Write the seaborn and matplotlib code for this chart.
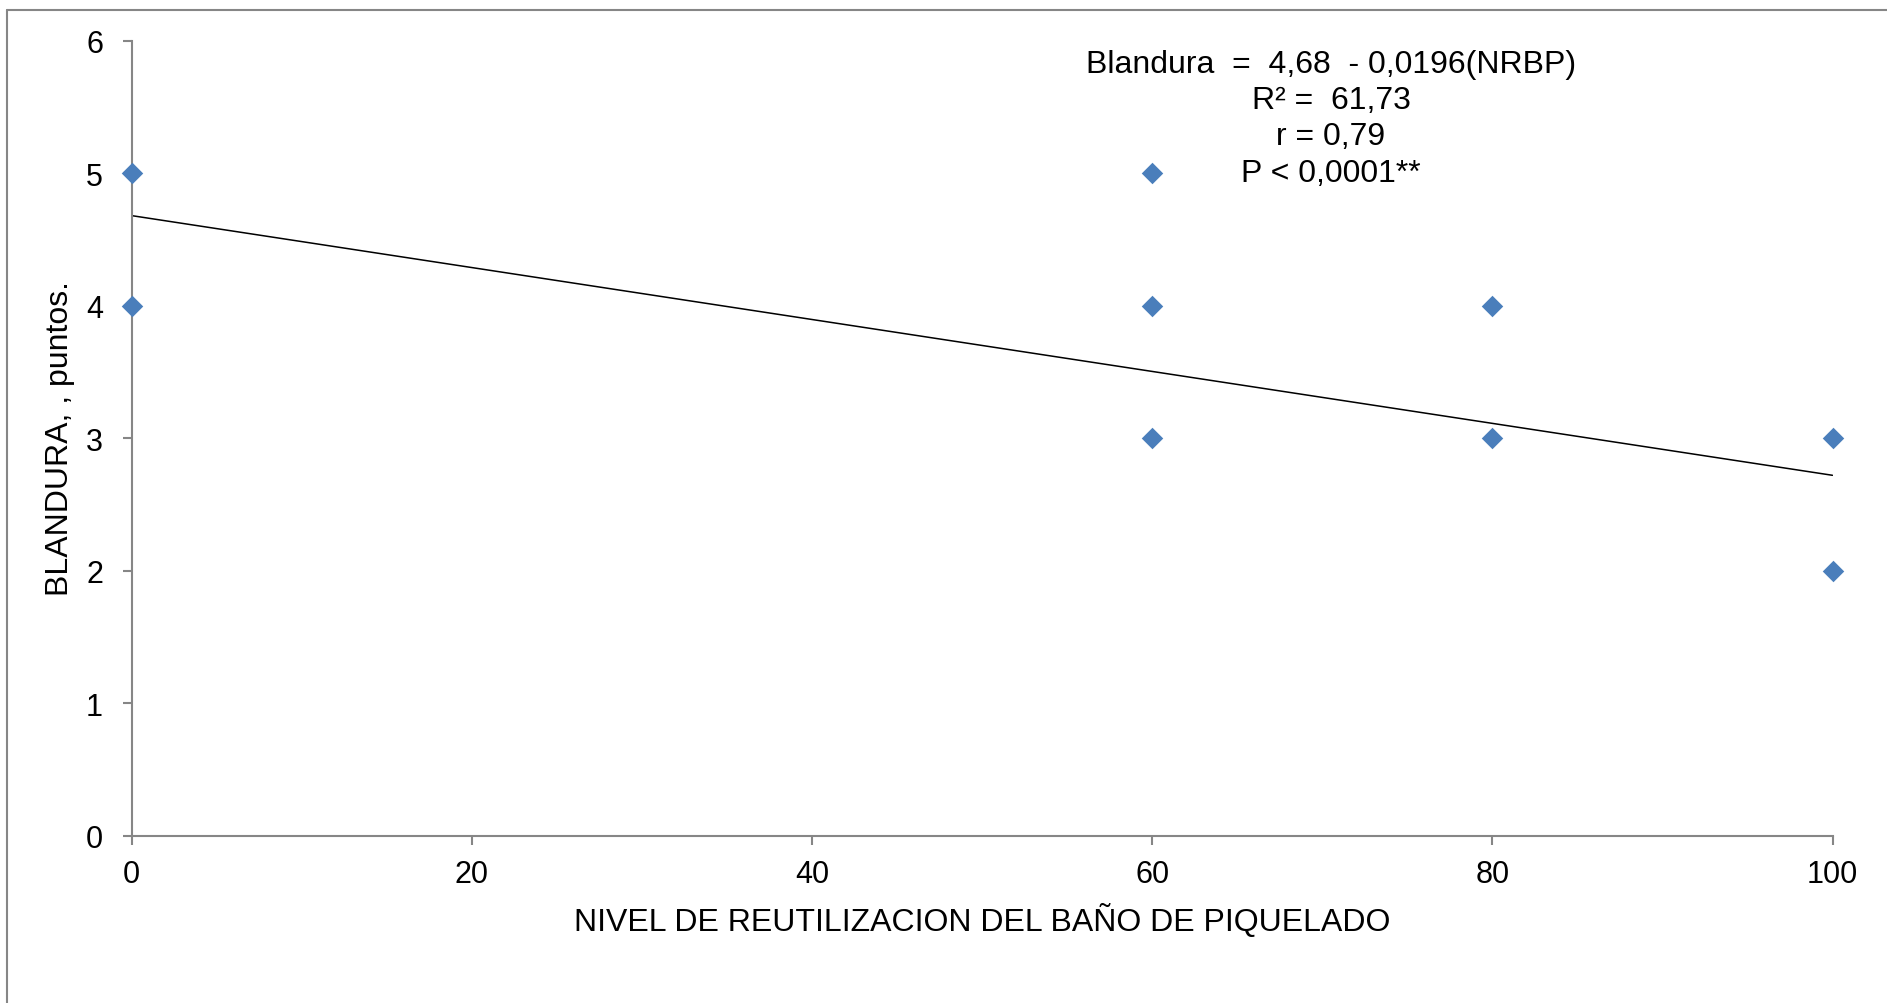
import numpy as np
import matplotlib
matplotlib.use("Agg")
import matplotlib.pyplot as plt
import seaborn as sns

# Observations: reuse level of the pickling bath vs. softness score
nivel = [0, 0, 60, 60, 60, 80, 80, 100, 100]
blandura = [5, 4, 5, 4, 3, 4, 3, 3, 2]

# Fitted regression
intercepto = 4.68
pendiente = -0.0196

x_ticks = [0, 20, 40, 60, 80, 100]
y_ticks = [0, 1, 2, 3, 4, 5, 6]

ecuacion = ["Blandura  =  4,68  - 0,0196(NRBP)", "R² =  61,73", "r = 0,79", "P < 0,0001**"]

x_label = "NIVEL DE REUTILIZACION DEL BAÑO DE PIQUELADO"
y_label = "BLANDURA, , puntos."

sns.set_theme(style="white")
plt.rcParams["font.family"] = ["Liberation Sans", "DejaVu Sans"]
plt.rcParams["text.color"] = "black"
plt.rcParams["xtick.color"] = "black"
plt.rcParams["ytick.color"] = "black"

W, H = 1887, 1004
fig = plt.figure(figsize=(W / 100, H / 100), dpi=100)
ax = fig.add_axes([131.5 / W, 1 - 836.7 / H, (1832.5 - 131.5) / W, (836.7 - 41.7) / H])

azul = "#4A7EBB"
gris = "#868686"
fs = 22
fs_lab = 23

x_line = np.array([min(nivel), max(nivel)], dtype=float)
sns.lineplot(x=x_line, y=intercepto + pendiente * x_line, ax=ax, color="black", linewidth=1.1)
sns.scatterplot(x=nivel, y=blandura, ax=ax, marker="D", s=120, color=azul,
                linewidth=0, clip_on=False, zorder=5)

ax.set_xlim(0, 100)
ax.set_ylim(0, 6)
ax.set_xticks(x_ticks)
ax.set_yticks(y_ticks)
ax.tick_params(axis="x", direction="out", length=6.5, width=1.5, color=gris,
               labelcolor="black", labelsize=fs, pad=10.5, bottom=True)
ax.tick_params(axis="y", direction="out", length=6.5, width=1.5, color=gris,
               labelcolor="black", labelsize=fs, pad=14, left=True)
for s in ["top", "right"]:
    ax.spines[s].set_visible(False)
for s in ["left", "bottom"]:
    ax.spines[s].set_color(gris)
    ax.spines[s].set_linewidth(1.5)

fig.text(60 / W, 1 - 439 / H, y_label, rotation=90, ha="center", va="center",
         fontsize=fs_lab, color="black")
fig.text(982 / W, 1 - 921 / H, x_label, ha="center", va="center",
         fontsize=fs_lab, color="black")

# Equation block
ys = [65, 101, 137, 174]
for t, yy in zip(ecuacion, ys):
    fig.text(1331 / W, 1 - yy / H, t, ha="center", va="center", fontsize=fs_lab, color="black")

# Chart-area outline
fig.add_artist(plt.Line2D([7.5 / W, 7.5 / W], [0, 1 - 11 / H], color=gris, linewidth=1.5,
                          transform=fig.transFigure))
fig.add_artist(plt.Line2D([7.5 / W, 1], [1 - 11 / H, 1 - 11 / H], color=gris, linewidth=1.5,
                          transform=fig.transFigure))

fig.savefig("out.png", dpi=100)
